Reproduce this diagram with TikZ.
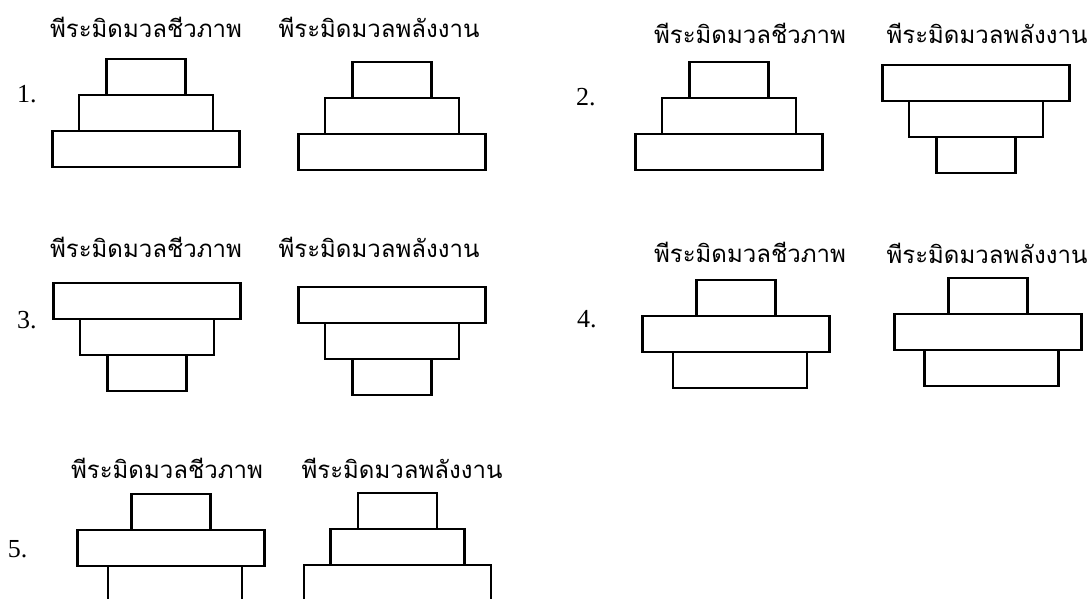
\documentclass[tikz,border=0pt]{standalone}
\usepackage{fontspec}
\setmainfont{Liberation Serif}
\newfontfamily\thaifont[Script=Thai]{Loma}
\usetikzlibrary{positioning,chains}

\begin{document}
\begin{tikzpicture}[x=1pt,y=-1pt,
        every node/.style={inner sep=0pt,outer sep=0pt},
        blk/.style={draw,line width=2.6pt,minimum height=36pt},
        smallblk/.style={blk,minimum width=79pt},
        midblk/.style={blk,minimum width=134pt},
        bigblk/.style={blk,minimum width=187pt},
        captext/.style={anchor=base,font=\thaifont\fontsize{24}{28}\selectfont},
        numtext/.style={anchor=base west,font=\fontsize{26}{30}\selectfont},
        node distance=0pt
        ]
        \useasboundingbox (0,0) rectangle (1090,598);

        % the numbers
        \node[numtext] (n1) at (17,102) {1.};
        \node[numtext] (n2) at (576,105) {2.};
        \node[numtext] (n3) at (17,328) {3.};
        \node[numtext] (n4) at (577,327) {4.};
        \node[numtext] (n5) at (8,557) {5.};

        % the captions
        \node[captext] (c1b) at (146,37) {พีระมิดมวลชีวภาพ};
        \node[captext] (c1e) at (379,37) {พีระมิดมวลพลังงาน};
        \node[captext] (c2b) at (750,43) {พีระมิดมวลชีวภาพ};
        \node[captext] (c2e) at (987,43) {พีระมิดมวลพลังงาน};
        \node[captext] (c3b) at (146,257) {พีระมิดมวลชีวภาพ};
        \node[captext] (c3e) at (379,257) {พีระมิดมวลพลังงาน};
        \node[captext] (c4b) at (750,262) {พีระมิดมวลชีวภาพ};
        \node[captext] (c4e) at (987,263) {พีระมิดมวลพลังงาน};
        \node[captext] (c5b) at (167,478) {พีระมิดมวลชีวภาพ};
        \node[captext] (c5e) at (402,478) {พีระมิดมวลพลังงาน};

        % pyramids of choice 1
        \begin{scope}[start chain=going below]
        \node[smallblk,on chain] (p1b1) at (146,77) {};
        \node[midblk,on chain] (p1b2) {};
        \node[bigblk,on chain] (p1b3) {};
        \end{scope}
        \begin{scope}[start chain=going below]
        \node[smallblk,on chain] (p1e1) at (392,80) {};
        \node[midblk,on chain] (p1e2) {};
        \node[bigblk,on chain] (p1e3) {};
        \end{scope}

        % pyramids of choice 2
        \begin{scope}[start chain=going below]
        \node[smallblk,on chain] (p2b1) at (729,80) {};
        \node[midblk,on chain] (p2b2) {};
        \node[bigblk,on chain] (p2b3) {};
        \end{scope}
        \begin{scope}[start chain=going below]
        \node[bigblk,on chain] (p2e1) at (976,83) {};
        \node[midblk,on chain] (p2e2) {};
        \node[smallblk,on chain] (p2e3) {};
        \end{scope}

        % pyramids of choice 3
        \begin{scope}[start chain=going below]
        \node[bigblk,on chain] (p3b1) at (147,301) {};
        \node[midblk,on chain] (p3b2) {};
        \node[smallblk,on chain] (p3b3) {};
        \end{scope}
        \begin{scope}[start chain=going below]
        \node[bigblk,on chain] (p3e1) at (392,305) {};
        \node[midblk,on chain] (p3e2) {};
        \node[smallblk,on chain] (p3e3) {};
        \end{scope}

        % pyramids of choice 4
        \begin{scope}[start chain=going below]
        \node[smallblk,on chain] (p4b1) at (736,298) {};
        \node[bigblk,on chain] (p4b2) {};
        \node[midblk,on chain,xshift=4pt] (p4b3) {};
        \end{scope}
        \begin{scope}[start chain=going below]
        \node[smallblk,on chain] (p4e1) at (988,296) {};
        \node[bigblk,on chain] (p4e2) {};
        \node[midblk,on chain,xshift=3.5pt] (p4e3) {};
        \end{scope}

        % pyramids of choice 5
        \begin{scope}[start chain=going below]
        \node[smallblk,on chain] (p5b1) at (171,512) {};
        \node[bigblk,on chain] (p5b2) {};
        \node[midblk,on chain,xshift=4pt] (p5b3) {};
        \end{scope}
        \begin{scope}[start chain=going below]
        \node[smallblk,on chain] (p5e1) at (397.5,511) {};
        \node[midblk,on chain] (p5e2) {};
        \node[bigblk,on chain] (p5e3) {};
        \end{scope}
\end{tikzpicture}
\end{document}
